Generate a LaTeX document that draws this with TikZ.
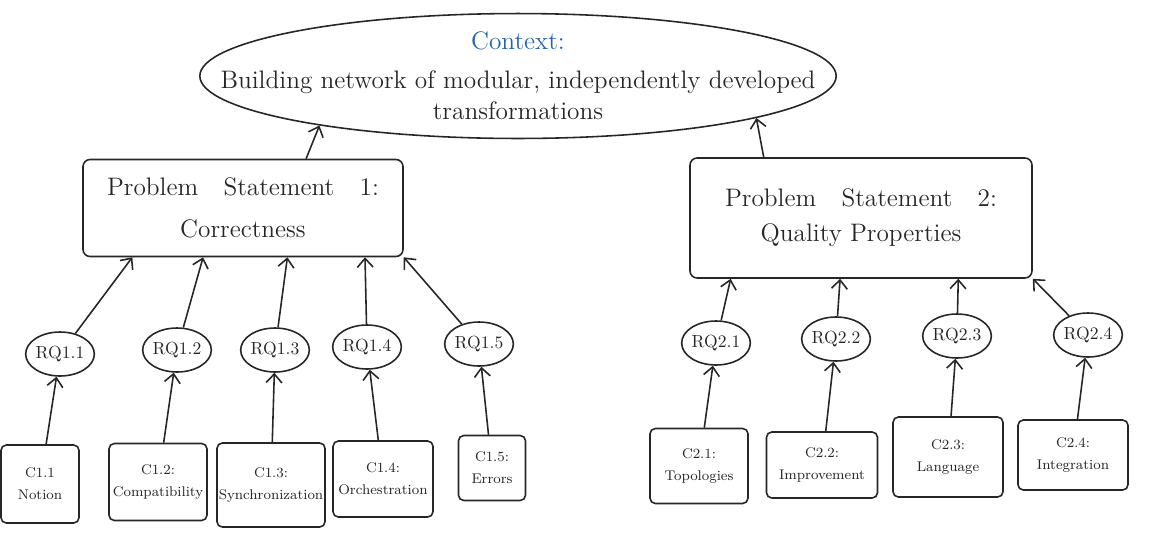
\documentclass[tikz,border=0pt]{standalone}
\usepackage{xcolor}
\usepackage{tikz}
\usetikzlibrary{arrows.meta, shapes.geometric}
\definecolor{ctxblue}{RGB}{35,100,170}
\tikzset{
  sketch/.style={line width=0.9pt, black!85},
  goal/.style={sketch, draw, ellipse, align=center, font=\Large, inner xsep=-1.45cm, inner ysep=0pt},
  problem/.style={sketch, draw, rectangle, rounded corners=4pt, align=center, font=\Large},
  rq/.style={sketch, draw, ellipse, inner sep=0pt, minimum width=1.3cm, minimum height=0.88cm},
  contrib/.style={sketch, draw, rectangle, rounded corners=3pt, align=center, font=\footnotesize, inner sep=1pt},
  flow/.style={sketch, -{Straight Barb[length=5pt,width=9pt]}}
}

\begin{document}
\begin{tikzpicture}[x=0.02cm, y=-0.02cm]
\useasboundingbox (0,0) rectangle (1167,535);

\node[goal] (ctx) at (518,76)
  {\textcolor{ctxblue}{Context:}\\[4pt]
   Building network of modular, independently developed\\ transformations};

\node[problem, minimum width=6.4cm, minimum height=1.94cm] (ps1) at (243,208)
  {Problem\quad Statement\quad 1:\\[6pt] Correctness};
\node[problem, minimum width=6.84cm, minimum height=2.4cm] (ps2) at (861,218)
  {Problem\quad Statement\quad 2:\\[2pt] Quality Properties};

\node[rq] (rq11) at (60,354) {RQ1.1};
\node[rq] (rq12) at (177,350) {RQ1.2};
\node[rq] (rq13) at (275,350) {RQ1.3};
\node[rq] (rq14) at (367,347) {RQ1.4};
\node[rq] (rq15) at (479,344) {RQ1.5};

\node[rq] (rq21) at (716,343) {RQ2.1};
\node[rq] (rq22) at (836,339) {RQ2.2};
\node[rq] (rq23) at (957,336) {RQ2.3};
\node[rq] (rq24) at (1088,335) {RQ2.4};

\node[contrib, minimum width=1.56cm, minimum height=1.56cm] (c11) at (40,484) {C1.1\\[3pt] Notion};
\node[contrib, minimum width=1.96cm, minimum height=1.54cm] (c12) at (158,482) {C1.2:\\[3pt] Compatibility};
\node[contrib, minimum width=2.02cm, minimum height=1.68cm] (c13) at (271,485) {C1.3:\\[3pt] Synchronization};
\node[contrib, minimum width=2.0cm, minimum height=1.52cm] (c14) at (383,479) {C1.4:\\[3pt] Orchestration};
\node[contrib, minimum width=1.34cm, minimum height=1.3cm] (c15) at (492,468) {C1.5:\\[3pt] Errors};

\node[contrib, minimum width=1.96cm, minimum height=1.5cm] (c21) at (699,466) {C2.1:\\[3pt] Topologies};
\node[contrib, minimum width=2.22cm, minimum height=1.32cm] (c22) at (822,465) {C2.2:\\[3pt] Improvement};
\node[contrib, minimum width=2.2cm, minimum height=1.6cm] (c23) at (948,457) {C2.3:\\[3pt] Language};
\node[contrib, minimum width=2.2cm, minimum height=1.4cm] (c24) at (1073,455) {C2.4:\\[3pt] Integration};

\draw[flow] (ps1.38) -- (ctx.194);
\draw[flow] (ps2.148) -- (ctx.350.6);

\draw[flow] (rq11) -- (ps1.204);
\draw[flow] (rq12) -- (ps1.231);
\draw[flow] (rq13) -- (ps1.312);
\draw[flow] (rq14) -- (ps1.338);
\draw[flow] (rq15) -- (ps1.south east);

\draw[flow] (rq21) -- (ps2.205);
\draw[flow] (rq22) -- (ps2.251);
\draw[flow] (rq23) -- (ps2.328);
\draw[flow] (rq24) -- (ps2.south east);

\draw[flow] (c11) -- (rq11);
\draw[flow] (c12) -- (rq12);
\draw[flow] (c13) -- (rq13);
\draw[flow] (c14) -- (rq14);
\draw[flow] (c15) -- (rq15);
\draw[flow] (c21) -- (rq21);
\draw[flow] (c22) -- (rq22);
\draw[flow] (c23) -- (rq23);
\draw[flow] (c24) -- (rq24);
\end{tikzpicture}
\end{document}
